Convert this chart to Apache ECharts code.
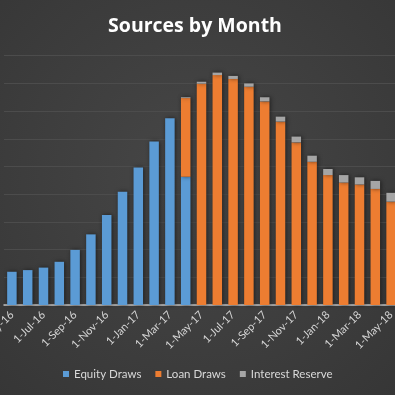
<!DOCTYPE html>
<html>
<head>
<meta charset="utf-8">
<script src="https://cdn.jsdelivr.net/npm/echarts@6/dist/echarts.min.js"></script>
<style>
html,body{margin:0;padding:0;background:#3d3d3d;}
#chart{width:395px;height:395px;}
</style>
</head>
<body>
<div id="chart"></div>
<script>
var months = ["1-May-16","1-Jun-16","1-Jul-16","1-Aug-16","1-Sep-16","1-Oct-16","1-Nov-16","1-Dec-16",
  "1-Jan-17","1-Feb-17","1-Mar-17","1-Apr-17","1-May-17","1-Jun-17","1-Jul-17","1-Aug-17","1-Sep-17",
  "1-Oct-17","1-Nov-17","1-Dec-17","1-Jan-18","1-Feb-18","1-Mar-18","1-Apr-18","1-May-18"];
var equityDraws = [1.20,1.26,1.35,1.56,1.99,2.55,3.25,4.09,4.96,5.90,6.74,4.63,
  null,null,null,null,null,null,null,null,null,null,null,null,null];
var loanDraws = [null,null,null,null,null,null,null,null,null,null,null,2.84,
  7.99,8.30,8.16,7.88,7.35,6.62,5.87,5.17,4.69,4.42,4.35,4.19,3.73];
var interestReserve = [null,null,null,null,null,null,null,null,null,null,null,0.03,
  0.07,0.09,0.11,0.12,0.15,0.18,0.21,0.22,0.22,0.27,0.26,0.29,0.32];
var seriesNames = ["Equity Draws","Loan Draws","Interest Reserve"];

var chart = echarts.init(document.getElementById('chart'));
var font = 'Lato';
function barStyle(c){
  return {color:c, shadowColor:'rgba(0,0,0,0.55)', shadowBlur:4, shadowOffsetX:1, shadowOffsetY:0};
}
chart.setOption({
  backgroundColor: {
    type:'radial', x:0.5, y:0.45, r:0.75,
    colorStops:[{offset:0,color:'#474747'},{offset:1,color:'#363636'}]
  },
  animation:false,
  title:{
    text:'Sources by Month', left:190, top:11, textAlign:'center',
    textStyle:{color:'#ffffff', fontFamily:'Open Sans', fontWeight:'bold', fontSize:19.5}
  },
  legend:{
    data:seriesNames, bottom:10, left:58, orient:'horizontal', icon:'rect', itemWidth:6, itemHeight:6, itemGap:14,
    textStyle:{color:'#d9d9d9', fontFamily:font, fontSize:11.5}
  },
  grid:{left:4, right:-4, top:55.7, bottom:90, containLabel:false, outerBoundsMode:'none'},
  xAxis:{
    type:'category', data:months,
    axisLine:{lineStyle:{color:'#c4c4c4', width:1.5}},
    axisTick:{show:false},
    axisLabel:{interval:1, rotate:45, margin:8, color:'#d4d4d4', fontFamily:font, fontSize:11, hideOverlap:false}
  },
  yAxis:{
    type:'value', min:0, max:9, interval:1,
    axisLabel:{show:false}, axisLine:{show:false}, axisTick:{show:false},
    splitLine:{lineStyle:{color:'#4c4c4c', width:1}}
  },
  series:[
    {name:seriesNames[0], type:'bar', stack:'s', data:equityDraws, barWidth:9.5, itemStyle:barStyle('#5b9bd5')},
    {name:seriesNames[1], type:'bar', stack:'s', data:loanDraws, barWidth:9.5, itemStyle:barStyle('#ed7d31')},
    {name:seriesNames[2], type:'bar', stack:'s', data:interestReserve, barWidth:9.5, itemStyle:barStyle('#a5a5a5')}
  ]
});
</script>
</body>
</html>
